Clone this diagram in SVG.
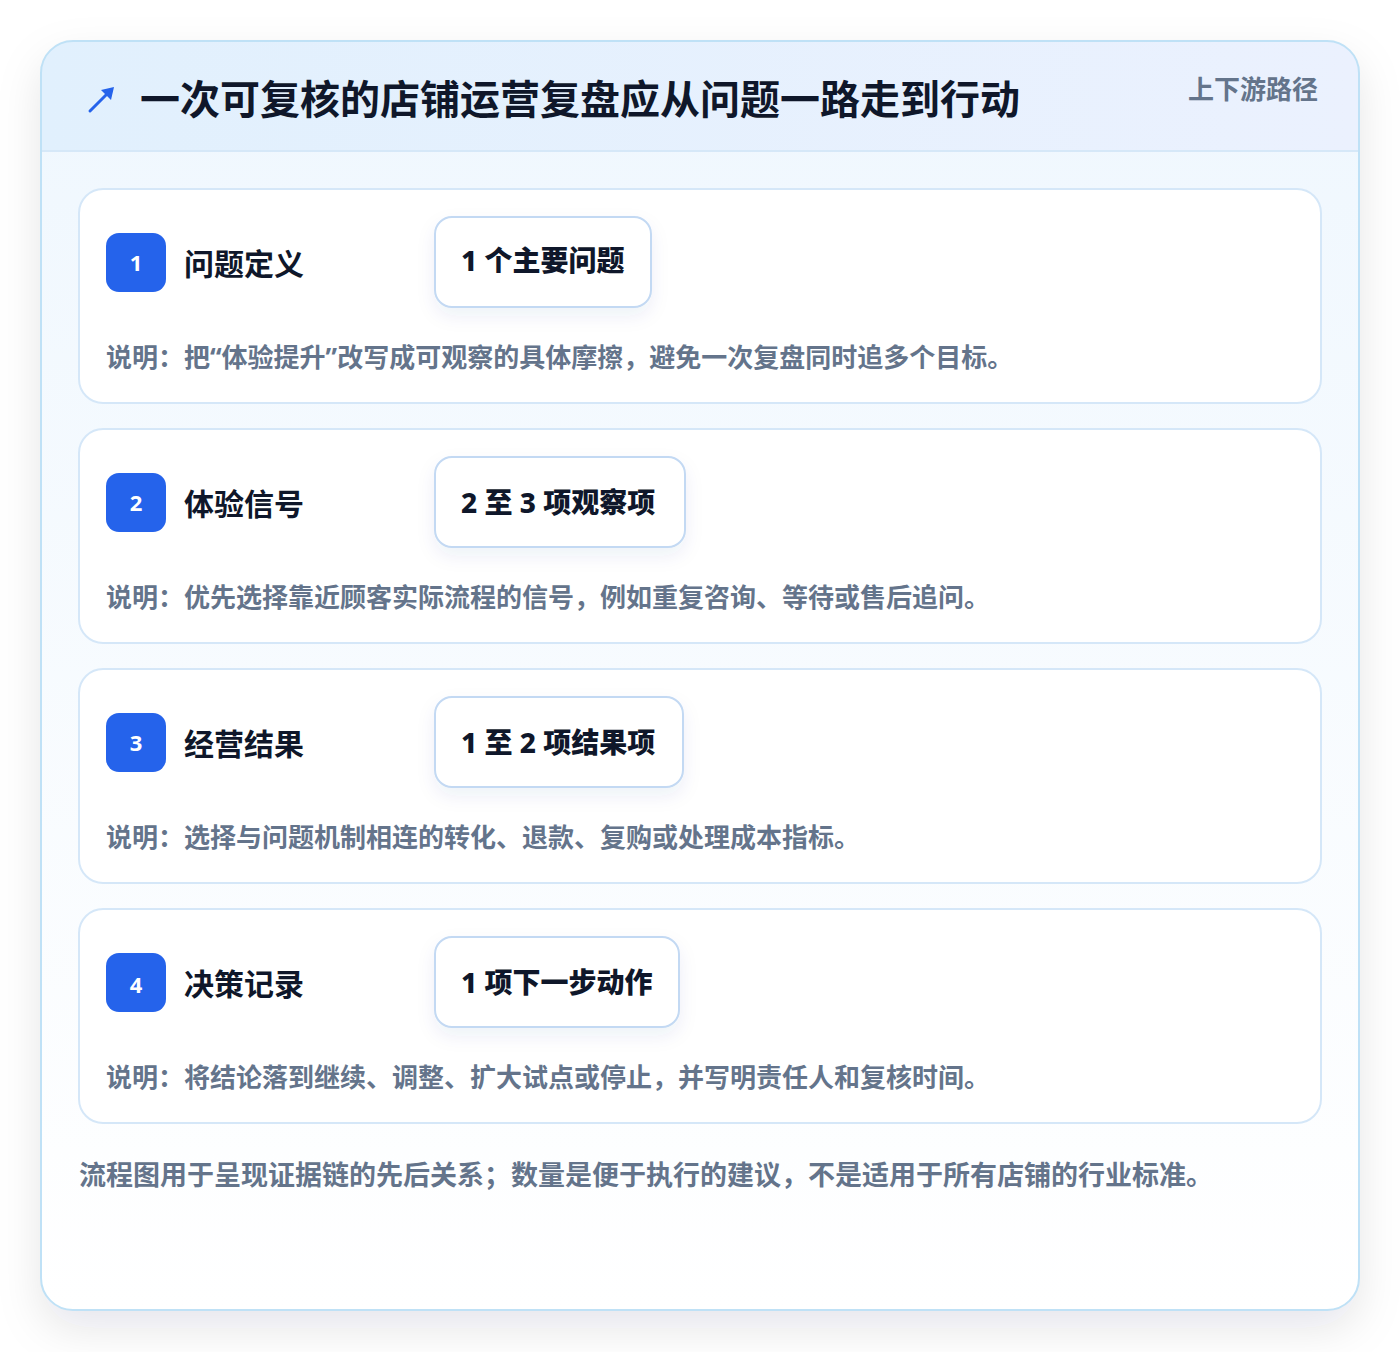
<svg xmlns="http://www.w3.org/2000/svg" width="1400" height="1352" viewBox="0 0 1400 1352">
<defs>
<linearGradient id="hdr" x1="0" y1="0" x2="1" y2="0">
<stop offset="0" stop-color="#e1f0fd"/>
<stop offset="1" stop-color="#ebf1fe"/>
</linearGradient>
<linearGradient id="body" x1="0" y1="0" x2="0" y2="1">
<stop offset="0" stop-color="#eff7fe"/>
<stop offset="1" stop-color="#ffffff"/>
</linearGradient>
<filter id="outerShadow" x="-10%" y="-10%" width="120%" height="125%">
<feDropShadow dx="0" dy="18" stdDeviation="22" flood-color="#0f172a" flood-opacity="0.10"/>
</filter>
<filter id="pillShadow" x="-20%" y="-30%" width="140%" height="170%">
<feDropShadow dx="0" dy="8" stdDeviation="9" flood-color="#1e3a8a" flood-opacity="0.07"/>
</filter>
<clipPath id="cardClip"><rect x="41" y="41" width="1318" height="1269" rx="32"/></clipPath>
<style>
.card{fill:#ffffff;stroke:#d5e7f8;stroke-width:2}
.badge{fill:#2563eb}
.badgeT{font-family:"Noto Sans","Noto Sans CJK SC",sans-serif;font-weight:700;font-size:22px;fill:#ffffff;text-anchor:middle}
.title{font-family:"Noto Sans CJK SC","Noto Sans",sans-serif;font-weight:700;font-size:30px;fill:#0f172a}
.pill{fill:#ffffff;stroke:#c3d9f3;stroke-width:2}
.pillT{font-family:"Noto Sans","Noto Sans CJK SC",sans-serif;font-weight:800;font-size:28px;fill:#0f172a}
.desc{font-family:"Noto Sans CJK SC","Noto Sans",sans-serif;font-weight:700;font-size:26px;fill:#64748b}
.q{font-family:"Noto Sans",sans-serif}
</style>
</defs>
<rect x="0" y="0" width="1400" height="1352" fill="#ffffff"/>
<g id="frame">
<rect x="41" y="41" width="1318" height="1269" rx="32" fill="url(#body)" filter="url(#outerShadow)"/>
<g clip-path="url(#cardClip)">
<rect x="41" y="41" width="1318" height="110" fill="url(#hdr)"/>
<line x1="41" y1="151" x2="1359" y2="151" stroke="#d6e8f8" stroke-width="2"/>
</g>
<rect x="41" y="41" width="1318" height="1269" rx="32" fill="none" stroke="#bfe1f6" stroke-width="2"/>
</g>
<g id="header">
<line x1="90" y1="111" x2="111" y2="90" stroke="#2563eb" stroke-width="3" stroke-linecap="round"/>
<polygon points="114,87 101,90 111,100" fill="#2563eb"/>
<text x="140" y="114" font-family="'Noto Sans CJK SC','Noto Sans',sans-serif" font-weight="700" font-size="40" fill="#0f172a">一次可复核的店铺运营复盘应从问题一路走到行动</text>
<text x="1318" y="99" text-anchor="end" font-family="'Noto Sans CJK SC','Noto Sans',sans-serif" font-weight="700" font-size="26" fill="#64748b">上下游路径</text>
</g>
<g id="step1">
<rect class="card" x="79" y="189" width="1242" height="214" rx="24"/>
<rect class="badge" x="106" y="233" width="60" height="59" rx="13"/>
<text class="badgeT" x="136" y="271">1</text>
<text class="title" x="184" y="275">问题定义</text>
<rect class="pill" x="435" y="217" width="216" height="90" rx="17" filter="url(#pillShadow)"/>
<text class="pillT" x="461" y="271">1 个主要问题</text>
<text class="desc" x="106" y="367">说明：把<tspan class="q">“</tspan>体验提升<tspan class="q">”</tspan>改写成可观察的具体摩擦，避免一次复盘同时追多个目标。</text>
</g>
<g id="step2">
<rect class="card" x="79" y="429" width="1242" height="214" rx="24"/>
<rect class="badge" x="106" y="473" width="60" height="59" rx="13"/>
<text class="badgeT" x="136" y="511">2</text>
<text class="title" x="184" y="515">体验信号</text>
<rect class="pill" x="435" y="457" width="250" height="90" rx="17" filter="url(#pillShadow)"/>
<text class="pillT" x="461" y="513">2 至 3 项观察项</text>
<text class="desc" x="106" y="607">说明：优先选择靠近顾客实际流程的信号，例如重复咨询、等待或售后追问。</text>
</g>
<g id="step3">
<rect class="card" x="79" y="669" width="1242" height="214" rx="24"/>
<rect class="badge" x="106" y="713" width="60" height="59" rx="13"/>
<text class="badgeT" x="136" y="751">3</text>
<text class="title" x="184" y="755">经营结果</text>
<rect class="pill" x="435" y="697" width="248" height="90" rx="17" filter="url(#pillShadow)"/>
<text class="pillT" x="461" y="753">1 至 2 项结果项</text>
<text class="desc" x="106" y="847">说明：选择与问题机制相连的转化、退款、复购或处理成本指标。</text>
</g>
<g id="step4">
<rect class="card" x="79" y="909" width="1242" height="214" rx="24"/>
<rect class="badge" x="106" y="953" width="60" height="59" rx="13"/>
<text class="badgeT" x="136" y="993">4</text>
<text class="title" x="184" y="995">决策记录</text>
<rect class="pill" x="435" y="937" width="244" height="90" rx="17" filter="url(#pillShadow)"/>
<text class="pillT" x="461" y="993">1 项下一步动作</text>
<text class="desc" x="106" y="1087">说明：将结论落到继续、调整、扩大试点或停止，并写明责任人和复核时间。</text>
</g>
<g id="connectors"></g>
<g id="footer">
<text x="79" y="1185" font-family="'Noto Sans CJK SC','Noto Sans',sans-serif" font-weight="700" font-size="27" fill="#64748b">流程图用于呈现证据链的先后关系；数量是便于执行的建议，不是适用于所有店铺的行业标准。</text>
</g>
</svg>
